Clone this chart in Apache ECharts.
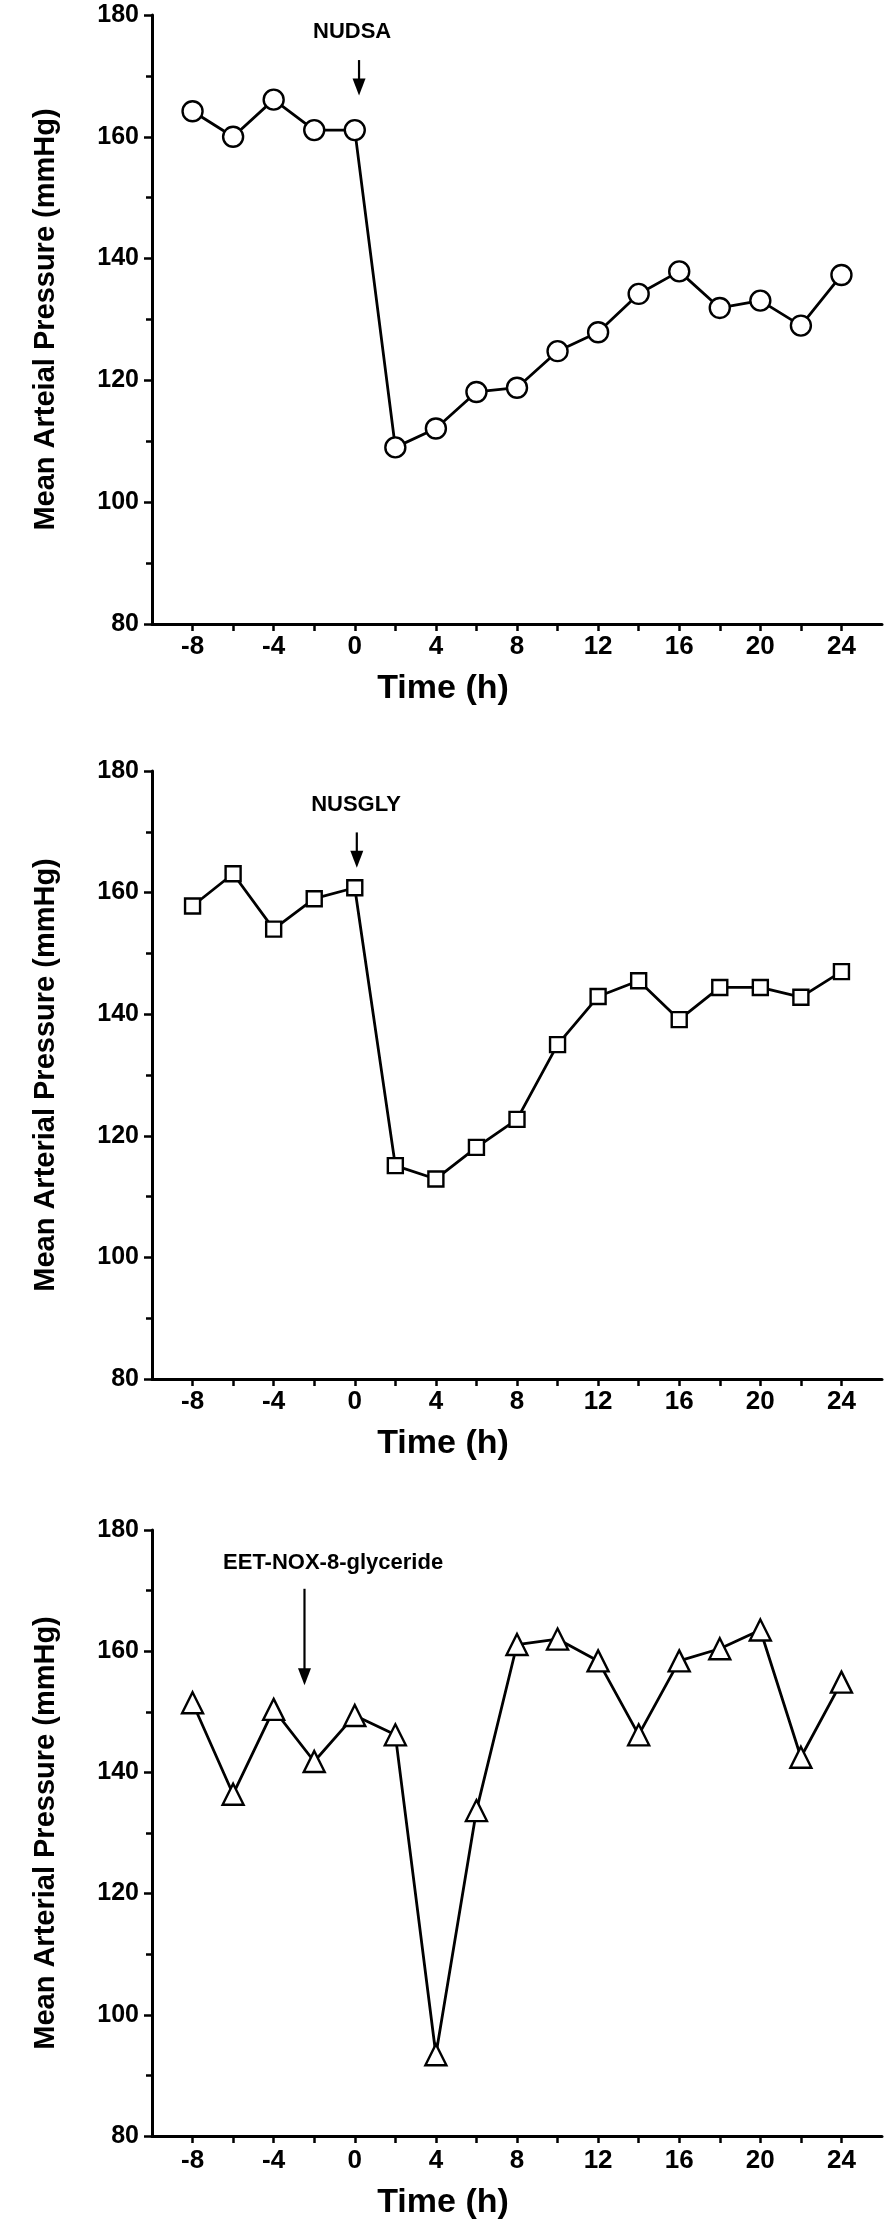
<!DOCTYPE html>
<html><head><meta charset="utf-8">
<script src="https://cdn.jsdelivr.net/npm/echarts@6/dist/echarts.min.js"></script>
<style>html,body{margin:0;padding:0;background:#fff}#c{width:886px;height:2227px}</style>
</head><body><div id="c"></div>
<script>
// ---- data ----
const times = [-8,-6,-4,-2,0,2,4,6,8,10,12,14,16,18,20,22,24];
const nudsa  = [164.2,160.0,166.1,161.1,161.1,109.0,112.1,118.1,118.8,124.8,127.9,134.2,137.9,131.9,133.1,129.0,137.3];
const nusgly = [157.8,163.1,154.0,159.0,160.8,115.1,112.9,118.1,122.7,135.0,142.9,145.5,139.1,144.4,144.4,142.8,147.0];
const eetnox = [151.5,136.4,150.4,141.8,149.4,146.2,93.4,133.7,161.1,162.0,158.4,146.2,158.4,160.4,163.5,142.5,154.9];
const xTickValues  = [-8,-6,-4,-2,0,2,4,6,8,10,12,14,16,18,20,22,24];
const xLabelValues = [-8,-4,0,4,8,12,16,20,24];
const yAxisNames = ['Mean Arteial Pressure (mmHg)','Mean Arterial Pressure (mmHg)','Mean Arterial Pressure (mmHg)'];
const xAxisName = 'Time (h)';
const drugLabels = ['NUDSA','NUSGLY','EET-NOX-8-glyceride'];
const drugLabelPos = [[-0.13,177.3],[0.06,174.4],[-1.07,174.6]];
const arrowX    = [0.21,0.10,-2.48];
const arrowFrom = [172.6,169.9,170.3];
const arrowTo   = [166.8,164.1,154.4];

const seriesValues = [nudsa, nusgly, eetnox];
const symbols = ['circle','rect','triangle'];
const symbolSizes = [20,15,21];

const FONT = '"Liberation Sans", Arial, sans-serif';
const grids = [
  {left:152, top:15,   width:730, height:609},
  {left:152, top:771,  width:730, height:608},
  {left:152, top:1530, width:730, height:606}
];
const labelMargins = [10,10,12];
const nameGaps = [48,48,50];

const chart = echarts.init(document.getElementById('c'), null, {renderer:'canvas'});
const axisLine = {show:true, onZero:false, lineStyle:{color:'#000', width:3}};
const option = {
  backgroundColor:'#fff',
  animation:false,
  grid: grids,
  xAxis: grids.map((g,i)=>({
    type:'value', gridIndex:i, min:-10, max:26, interval:2,
    axisLine: axisLine,
    axisTick:{show:true, length:7, customValues:xTickValues, lineStyle:{color:'#000', width:2.5}},
    axisLabel:{show:true, customValues:xLabelValues, margin:labelMargins[i], color:'#000', fontFamily:FONT, fontWeight:'bold', fontSize:26},
    splitLine:{show:false},
    name:xAxisName, nameLocation:'middle', nameGap:nameGaps[i],
    nameTextStyle:{color:'#000', fontFamily:FONT, fontWeight:'bold', fontSize:34, padding:[0,148,0,0]}
  })),
  yAxis: grids.map((g,i)=>({
    type:'value', gridIndex:i, min:80, max:180, interval:20,
    axisLine: axisLine,
    axisTick:{show:true, length:8, lineStyle:{color:'#000', width:2.5}},
    minorTick:{show:true, splitNumber:2, length:6, lineStyle:{color:'#000', width:2.5}},
    axisLabel:{show:true, margin:13, color:'#000', fontFamily:FONT, fontWeight:'bold', fontSize:25},
    splitLine:{show:false},
    name:yAxisNames[i], nameLocation:'middle', nameGap:92,
    nameTextStyle:{color:'#000', fontFamily:FONT, fontWeight:'bold', fontSize:29}
  })),
  series: seriesValues.map((vals,i)=>({
    type:'line', xAxisIndex:i, yAxisIndex:i,
    data: times.map((t,k)=>[t, vals[k]]),
    symbol:symbols[i], symbolSize:symbolSizes[i],
    lineStyle:{color:'#000', width:2.8},
    itemStyle:{color:'#fff', borderColor:'#000', borderWidth:2.4},
    emphasis:{disabled:true}
  }))
};
chart.setOption(option);

// annotations (label + arrow), placed through the axes' scales
const gfx = [];
for (let i=0;i<3;i++){
  const p = chart.convertToPixel({gridIndex:i}, drugLabelPos[i]);
  gfx.push({type:'text', x:p[0], y:p[1], z:10,
    style:{text:drugLabels[i], font:'bold 22px '+FONT, fill:'#000', align:'center', verticalAlign:'middle', textAlign:'center', textVerticalAlign:'middle'}});
  const a = chart.convertToPixel({gridIndex:i}, [arrowX[i], arrowFrom[i]]);
  const b = chart.convertToPixel({gridIndex:i}, [arrowX[i], arrowTo[i]]);
  const headH = 17, headW = 13;
  gfx.push({type:'line', z:10, shape:{x1:a[0], y1:a[1], x2:b[0], y2:b[1]-headH+2}, style:{stroke:'#000', lineWidth:2.2}});
  gfx.push({type:'polygon', z:10, shape:{points:[[b[0]-headW/2, b[1]-headH],[b[0]+headW/2, b[1]-headH],[b[0], b[1]]]}, style:{fill:'#000'}});
}
chart.setOption({graphic: gfx});
</script>
</body></html>
